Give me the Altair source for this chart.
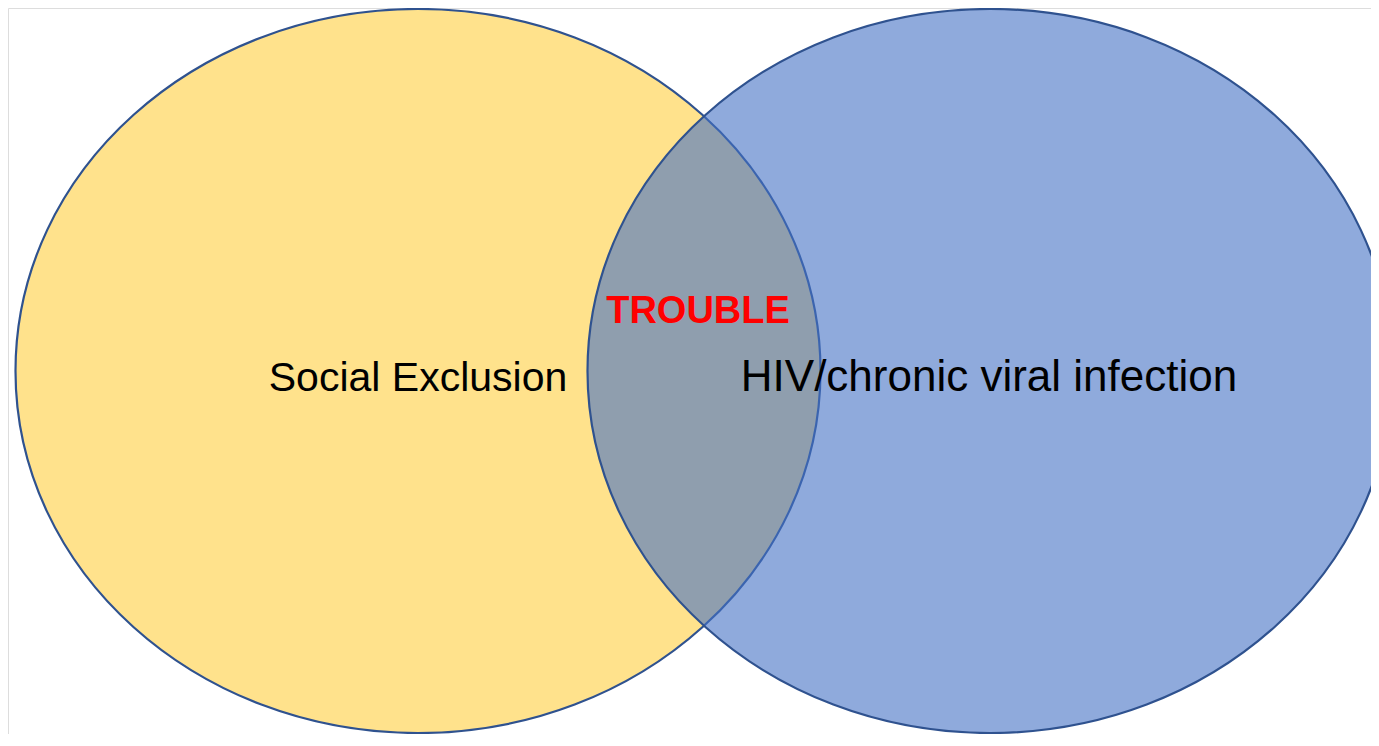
import altair as alt
import pandas as pd

# Venn sets (reference pixel coordinates of centres)
sets = ["Social Exclusion", "HIV/chronic viral infection"]
set_cx = [418, 990]
set_cy = [371, 371]

# Labels
labels = ["Social Exclusion", "HIV/chronic viral infection"]
label_x = [418, 989]
label_y = [391, 391]
overlap_label = ["TROUBLE"]
overlap_x = [698]
overlap_y = [323]

W, H = 1363, 726
X0, Y0 = 8, 8

circles = pd.DataFrame({"set": sets, "cx": set_cx, "cy": set_cy})
texts = pd.DataFrame({"label": labels, "x": label_x, "y": label_y})
trouble = pd.DataFrame({"label": overlap_label, "x": overlap_x, "y": overlap_y})

xs = alt.Scale(domain=[X0, X0 + W], range=[0, W], nice=False, zero=False)
ys = alt.Scale(domain=[Y0 + H, Y0], nice=False, zero=False)

# ellipse symbol path (unit half-width, aspect ry/rx)
e = 362 / 402.5
k = 0.5523
ellipse = (
    f"M 1 0 C 1 {k*e:.4f} {k:.4f} {e:.4f} 0 {e:.4f} "
    f"C {-k:.4f} {e:.4f} -1 {k*e:.4f} -1 0 "
    f"C -1 {-k*e:.4f} {-k:.4f} {-e:.4f} 0 {-e:.4f} "
    f"C {k:.4f} {-e:.4f} 1 {-k*e:.4f} 1 0 Z"
)

noaxis = alt.Axis(title=None, labels=False, ticks=False, domain=False, grid=False)

shapes = alt.Chart(circles).mark_point(
    shape=ellipse, filled=True, size=805 * 805, opacity=1,
    stroke="#2F528F", strokeWidth=2.2
).encode(
    x=alt.X("cx:Q", scale=xs, axis=noaxis),
    y=alt.Y("cy:Q", scale=ys, axis=noaxis),
    fill=alt.Fill("set:N", scale=alt.Scale(domain=sets, range=["#FFE28C", "#4472C4"]), legend=None),
    fillOpacity=alt.FillOpacity("set:N", scale=alt.Scale(domain=sets, range=[1.0, 0.6]), legend=None),
    order=alt.Order("cx:Q"),
)

text_left = alt.Chart(texts).transform_filter(
    alt.datum.label == labels[0]
).mark_text(
    font="Liberation Sans", fontSize=41, color="#000000", align="center", baseline="alphabetic"
).encode(
    x=alt.X("x:Q", scale=xs, axis=noaxis),
    y=alt.Y("y:Q", scale=ys, axis=noaxis),
    text="label:N",
)

text_right = alt.Chart(texts).transform_filter(
    alt.datum.label == labels[1]
).mark_text(
    font="Liberation Sans", fontSize=44, color="#000000", align="center", baseline="alphabetic"
).encode(
    x=alt.X("x:Q", scale=xs, axis=noaxis),
    y=alt.Y("y:Q", scale=ys, axis=noaxis),
    text="label:N",
)

trouble_text = alt.Chart(trouble).mark_text(
    font="Liberation Sans", fontSize=38, fontWeight="bold", color="#FF0000",
    align="center", baseline="alphabetic"
).encode(
    x=alt.X("x:Q", scale=xs, axis=noaxis),
    y=alt.Y("y:Q", scale=ys, axis=noaxis),
    text="label:N",
)

chart = alt.layer(shapes, text_left, text_right, trouble_text).properties(
    width=W, height=H, padding=0, autosize=alt.AutoSizeParams(type="none")
).configure_view(strokeOpacity=0, strokeWidth=0, clip=True).configure(background="white")

chart.save("out.html", embed_options={"renderer": "svg", "actions": False})
